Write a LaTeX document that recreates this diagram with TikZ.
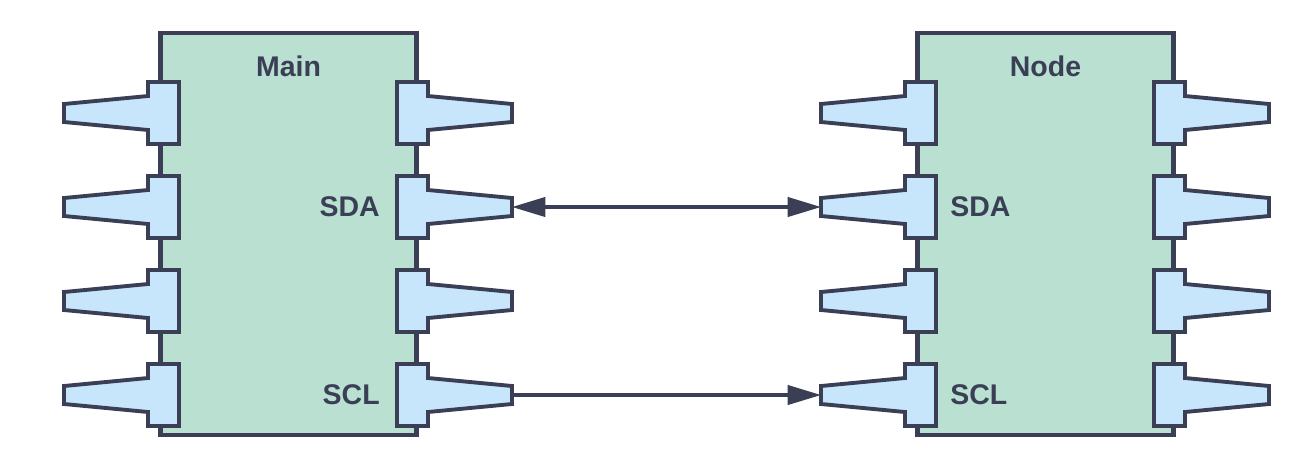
\documentclass[tikz,border=0pt]{standalone}
\usepackage{fontspec}
\setmainfont{Liberation Sans}
\usetikzlibrary{arrows.meta}
\definecolor{inkblue}{HTML}{3A3F55}
\definecolor{chipgreen}{HTML}{BAE0D2}
\definecolor{pinblue}{HTML}{C7E6FB}
\tikzset{
	chip/.style={draw=inkblue, fill=chipgreen, line width=2.3pt, minimum width=256*0.02cm, minimum height=402*0.02cm, inner sep=0pt},
	label/.style={text=inkblue, font=\fontsize{16.2}{18}\selectfont\bfseries, inner sep=0pt},
	wire/.style={draw=inkblue, line width=1.8pt, >={Triangle[length=19pt, width=11pt]}},
	pin/.pic={
		\draw[draw=inkblue, fill=pinblue, line width=2.2pt, line join=miter]
			(-115, -9) -- (-31, -17) -- (-31, -31) -- (0, -31) -- (0, 31) -- (-31, 31) -- (-31, 17) -- (-115, 9) -- cycle;
		\coordinate (-tip) at (-115, 0);
	}
}

\begin{document}
\begin{tikzpicture}[x=0.02cm, y=-0.02cm]
	\useasboundingbox (0, 0) rectangle (1301, 468);

	\node[chip] (main) at (288.5, 234) {};
	\node[chip] (slave) at (1045.5, 234) {};

	\foreach \row/\ypin in {1/113, 2/207, 3/301, 4/395} {
		\pic (mainl\row) at (179, \ypin) {pin};
		\pic[xscale=-1] (mainr\row) at (397, \ypin) {pin};
		\pic (slavel\row) at (936, \ypin) {pin};
		\pic[xscale=-1] (slaver\row) at (1154, \ypin) {pin};
	}

	\node[label] (maintitle) at (288.5, 66) {Main};
	\node[label] (slavetitle) at (1045.5, 66) {Node};
	\node[label, anchor=east] (mainsda) at (380, 207) {SDA};
	\node[label, anchor=east] (mainscl) at (380, 395) {SCL};
	\node[label, anchor=west] (slavesda) at (950, 207) {SDA};
	\node[label, anchor=west] (slavescl) at (950, 395) {SCL};

	\draw[wire, <->] (mainr2-tip) to (slavel2-tip);
	\draw[wire, ->] (mainr4-tip) to (slavel4-tip);
\end{tikzpicture}
\end{document}
